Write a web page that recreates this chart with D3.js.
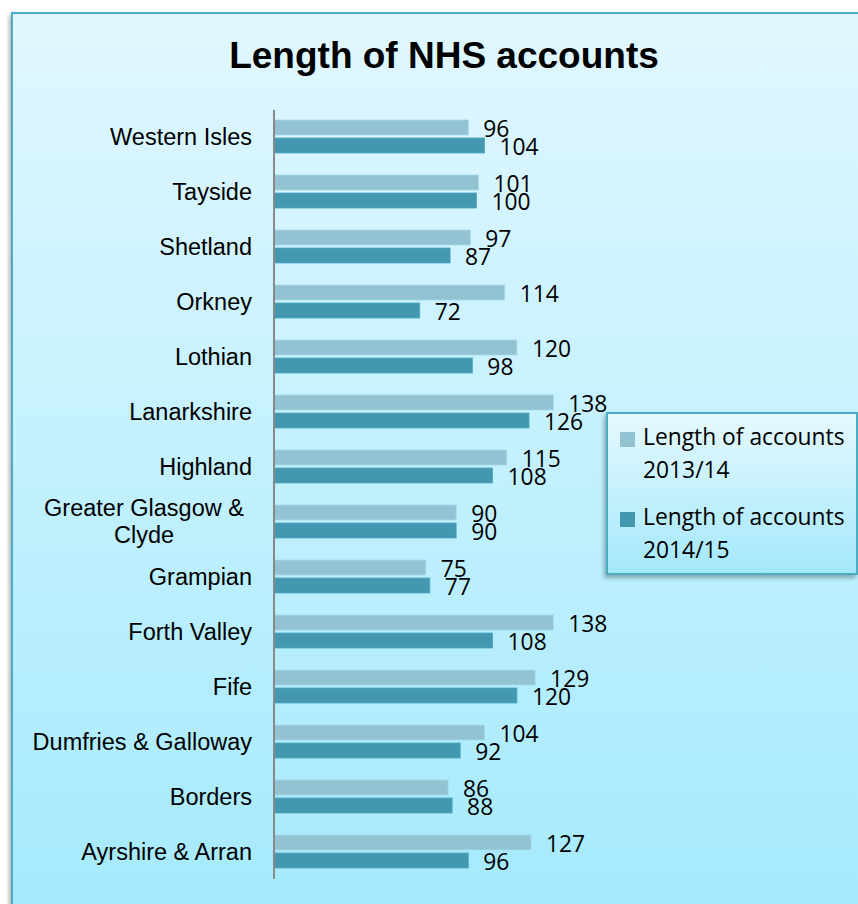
<!DOCTYPE html>
<html>
<head lang="en">
    <meta charset="UTF-8">
    <title>Length of NHS accounts</title>
    <style>
        body {
            margin: 0;
            background: #fff;
        }
        svg {
            display: block;
        }
        .cat text {
            font-family: "Liberation Sans", Arial, sans-serif;
            font-size: 23.5px;
            fill: #000;
        }
        .val, .legend text {
            font-family: "Open Sans", sans-serif;
            font-size: 22.8px;
            fill: #000;
        }
    </style>
</head>
<body>
    <svg id="chart" width="858" height="904"></svg>
</body>
<script src="https://cdn.jsdelivr.net/npm/d3@7"></script>
<script>

    let categories = ["Western Isles", "Tayside", "Shetland", "Orkney", "Lothian", "Lanarkshire",
        "Highland", "Greater Glasgow & Clyde", "Grampian", "Forth Valley", "Fife",
        "Dumfries & Galloway", "Borders", "Ayrshire & Arran"];
    let series = ["Length of accounts 2013/14", "Length of accounts 2014/15"];
    let legendLines = [["Length of accounts", "2013/14"], ["Length of accounts", "2014/15"]];
    let values1314 = [96, 101, 97, 114, 120, 138, 115, 90, 75, 138, 129, 104, 86, 127];
    let values1415 = [104, 100, 87, 72, 98, 126, 108, 90, 77, 108, 120, 92, 88, 96];
    let colors = ["#93c3d3", "#4398af"];

    let svg = d3.select("#chart");
    let defs = svg.append("defs");

    let bg = defs.append("linearGradient").attr("id", "bg")
        .attr("x1", 0).attr("y1", 0).attr("x2", 0).attr("y2", 1);
    bg.append("stop").attr("offset", "0%").attr("stop-color", "#e1f7ff");
    bg.append("stop").attr("offset", "100%").attr("stop-color", "#a4eafd");

    let lg = defs.append("linearGradient").attr("id", "lg")
        .attr("x1", 0).attr("y1", 0).attr("x2", 0).attr("y2", 1);
    lg.append("stop").attr("offset", "0%").attr("stop-color", "#e6f9fe");
    lg.append("stop").attr("offset", "100%").attr("stop-color", "#a3e8fb");

    let shadow = defs.append("filter").attr("id", "shadow")
        .attr("x", "-10%").attr("y", "-10%").attr("width", "120%").attr("height", "120%");
    shadow.append("feDropShadow")
        .attr("dx", -2).attr("dy", 3).attr("stdDeviation", 2)
        .attr("flood-color", "#000").attr("flood-opacity", 0.3);

    // chart frame (runs off the right and bottom edge)
    svg.append("rect")
        .attr("x", 12).attr("y", 13)
        .attr("width", 870).attr("height", 910)
        .attr("fill", "url(#bg)")
        .attr("stroke", "#4bacc6")
        .attr("stroke-width", 2)
        .attr("filter", "url(#shadow)");

    svg.append("text")
        .attr("x", 444).attr("y", 68)
        .attr("text-anchor", "middle")
        .style("font-family", "'Liberation Sans', Arial, sans-serif")
        .style("font-weight", "bold")
        .style("font-size", "37px")
        .text("Length of NHS accounts");

    let x = d3.scaleLinear()
        .domain([0, 140])
        .range([274, 274 + 140 * 2.024]);

    let y = d3.scaleBand()
        .domain(categories)
        .range([109, 879])
        .paddingInner(0.4)
        .paddingOuter(0.2);

    let y1 = d3.scaleBand()
        .domain(series)
        .range([0, y.bandwidth()])
        .paddingInner(0.1667);

    let rows = categories.map((c, i) => series.map((s, j) => ({
        cat: c, s: s, v: j === 0 ? values1314[i] : values1415[i], j: j
    })));

    let groups = svg.append("g").selectAll("g")
        .data(rows)
        .enter().append("g")
        .attr("transform", (d, i) => "translate(0," + y(categories[i]) + ")");

    groups.selectAll("rect")
        .data(d => d)
        .enter().append("rect")
        .attr("x", x(0))
        .attr("y", d => y1(d.s))
        .attr("width", d => x(d.v) - x(0))
        .attr("height", y1.bandwidth())
        .attr("fill", d => colors[d.j])
        .attr("stroke", d => d3.color(colors[d.j]).brighter(0.3))
        .attr("stroke-width", 0.8);

    groups.selectAll("text")
        .data(d => d)
        .enter().append("text")
        .attr("class", "val")
        .attr("x", d => x(d.v) + 15)
        .attr("y", d => y1(d.s) + y1.bandwidth() + 2)
        .text(d => d.v);

    // category axis
    let axis = svg.append("g")
        .attr("class", "cat")
        .attr("transform", "translate(" + x(0) + ",0)")
        .call(d3.axisLeft(y).tickSize(0).tickPadding(22));

    axis.select(".domain")
        .attr("d", "M0," + 110 + "V" + 879)
        .attr("stroke", "#898989")
        .attr("stroke-width", 2);

    axis.selectAll(".tick text")
        .attr("dy", null)
        .attr("y", 8)
        .each(function(d) {
            let t = d3.select(this);
            if (d.length > 20) {
                let cut = d.lastIndexOf(" ");
                t.text(null)
                    .attr("text-anchor", "middle")
                    .attr("x", 144 - x(0))
                    .attr("y", -5.5);
                t.append("tspan").text(d.slice(0, cut));
                t.append("tspan").attr("x", 144 - x(0)).attr("dy", 27).text(d.slice(cut + 1));
            }
        });

    // legend
    let legend = svg.append("g").attr("class", "legend");
    legend.append("rect")
        .attr("x", 607).attr("y", 413)
        .attr("width", 250).attr("height", 161)
        .attr("fill", "url(#lg)")
        .attr("stroke", "#4bacc6")
        .attr("stroke-width", 2)
        .attr("filter", "url(#shadow)");

    let items = legend.selectAll(".item")
        .data(series)
        .enter().append("g")
        .attr("class", "item")
        .attr("transform", (d, i) => "translate(620," + (432 + i * 80) + ")");

    items.append("rect")
        .attr("width", 15).attr("height", 15)
        .attr("fill", (d, i) => colors[i]);

    items.append("text")
        .attr("x", 23).attr("y", 13)
        .each(function(d, i) {
            let t = d3.select(this);
            t.append("tspan").text(legendLines[i][0]);
            t.append("tspan").attr("x", 23).attr("dy", 33).text(legendLines[i][1]);
        });

</script>
</html>
